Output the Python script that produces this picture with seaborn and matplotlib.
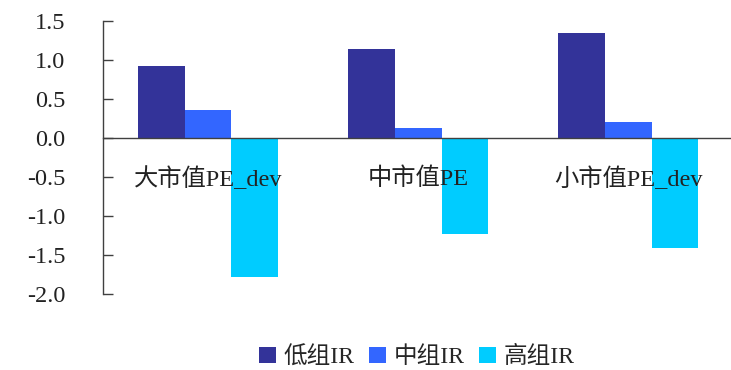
import pandas as pd
import numpy as np
import seaborn as sns
import matplotlib.pyplot as plt

categories = ["大市值PE_dev", "中市值PE", "小市值PE_dev"]
series = ["低组IR", "中组IR", "高组IR"]
low_ir = [0.92, 1.14, 1.35]
mid_ir = [0.36, 0.13, 0.21]
high_ir = [-1.78, -1.23, -1.41]
colors_list = ["#333399", "#3366FF", "#00CCFF"]
yticks = [-2.0, -1.5, -1.0, -0.5, 0.0, 0.5, 1.0, 1.5]

sns.set_style("white")
plt.rcParams['font.family'] = ['Liberation Serif', 'Noto Sans CJK SC', 'DejaVu Sans']
plt.rcParams['font.size'] = 17.5

data = pd.DataFrame({
    "cat": categories * 3,
    "series": [series[0]] * 3 + [series[1]] * 3 + [series[2]] * 3,
    "value": low_ir + mid_ir + high_ir,
})

fig = plt.figure(figsize=(7.31, 3.70), dpi=100)
ax = fig.add_axes([103 / 731, 76 / 370, 628 / 731, 273 / 370])
sns.barplot(data=data, x="cat", y="value", hue="series", palette=colors_list,
            width=0.67, saturation=1, ax=ax, linewidth=0, errorbar=None)

ax.set_xlim(-0.5, 2.49)
ax.set_ylim(-2.0, 1.5)
ax.set_yticks(yticks)
ax.set_yticklabels(["%.1f" % v for v in yticks])
ax.set_xlabel("")
ax.set_ylabel("")

for s in ["top", "right"]:
    ax.spines[s].set_visible(False)
ax.spines["bottom"].set_position(("data", 0))
for s in ["left", "bottom"]:
    ax.spines[s].set_color("#404040")
    ax.spines[s].set_linewidth(1)

ax.set_xticks([0, 1, 2])
ax.set_xticklabels(categories)
ax.set_xticks([0.5, 1.5], minor=True)
ax.tick_params(axis="x", which="major", length=0, pad=21, labelcolor="#222222")
ax.tick_params(axis="x", which="minor", length=7, direction="in", color="#404040", width=1)
ax.tick_params(axis="y", length=7, direction="in", pad=27, color="#404040", width=1, left=True,
               labelcolor="#222222")
# category names sit on top of the bars like in the original
ax.xaxis.set_zorder(10)
ax.spines["bottom"].set_zorder(10)

handles, labels = ax.get_legend_handles_labels()
ax.legend(handles, labels, loc="center", bbox_to_anchor=(0.5, -0.232), ncol=3,
          frameon=False, handlelength=0.7, handleheight=0.7, handletextpad=0.35,
          columnspacing=0.6, borderaxespad=0, fontsize=17)

fig.savefig("out.png", dpi=100)
